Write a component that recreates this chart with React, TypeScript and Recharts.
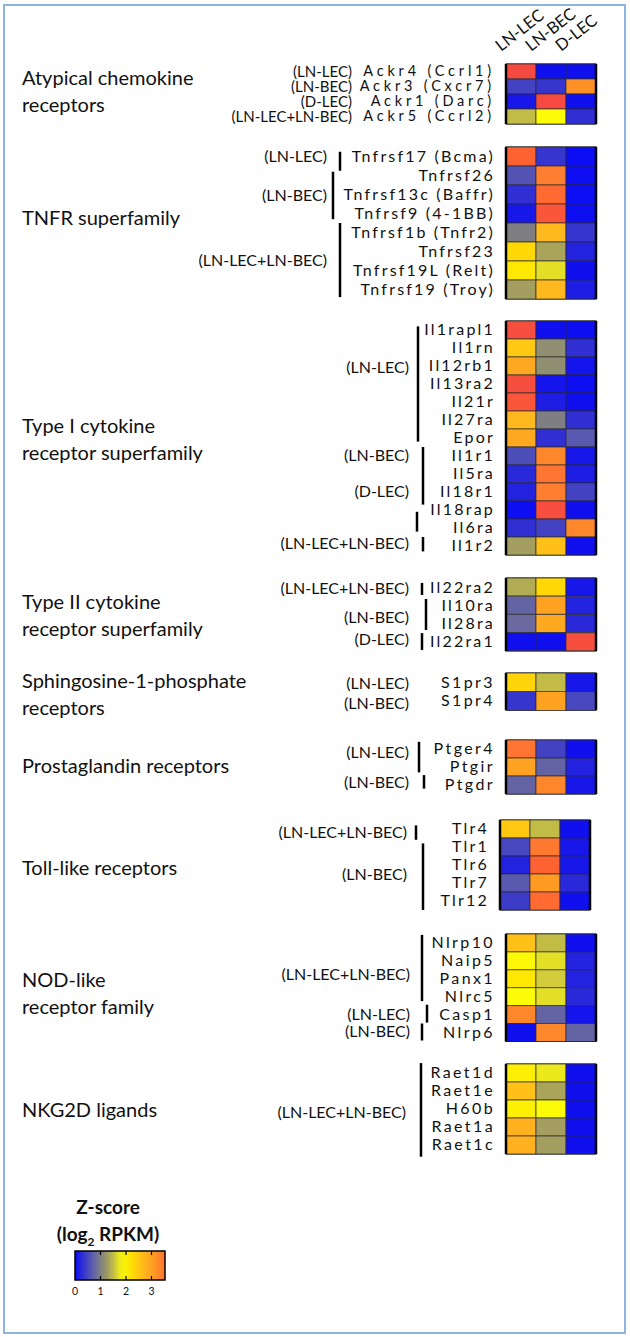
import { BarChart, Bar, XAxis, YAxis, Cell, ReferenceArea, ReferenceLine } from "recharts";

const COLUMNS = ["LN-LEC", "LN-BEC", "D-LEC"];
const KEYS = ["lec", "bec", "dlec"];

// z-scores per gene: [LN-LEC, LN-BEC, D-LEC]
const ackrGenes = ["Ackr4 (Ccrl1)", "Ackr3 (Cxcr7)", "Ackr1 (Darc)", "Ackr5 (Ccrl2)"];
const ackrZ = [[4.0, 0.05, 0.05], [0.45, 0.35, 3.2], [0.1, 4.0, 0.05], [1.5, 1.85, 0.3]];

const tnfrGenes = ["Tnfrsf17 (Bcma)", "Tnfrsf26", "Tnfrsf13c (Baffr)", "Tnfrsf9 (4-1BB)", "Tnfrsf1b (Tnfr2)", "Tnfrsf23", "Tnfrsf19L (Relt)", "Tnfrsf19 (Troy)"];
const tnfrZ = [[3.7, 0.35, 0.02], [0.6, 3.4, 0.03], [0.3, 3.6, 0.03], [0.1, 3.85, 0.03], [1.0, 2.7, 0.35], [2.3, 1.35, 0.2], [2.1, 1.7, 0.05], [1.3, 2.7, 0.15]];

const type1Genes = ["Il1rapl1", "Il1rn", "Il12rb1", "Il13ra2", "Il21r", "Il27ra", "Epor", "Il1r1", "Il5ra", "Il18r1", "Il18rap", "Il6ra", "Il1r2"];
const type1Z = [[3.95, 0.05, 0.03], [2.5, 1.15, 0.3], [2.9, 1.15, 0.08], [3.95, 0.08, 0.03], [3.85, 0.15, 0.05], [2.7, 1.0, 0.3], [2.9, 0.3, 0.65], [0.55, 3.3, 0.1], [0.25, 3.5, 0.15], [0.2, 3.4, 0.45], [0.03, 3.95, 0.05], [0.3, 0.45, 3.3], [1.3, 2.6, 0.05]];

const type2Genes = ["Il22ra2", "Il10ra", "Il28ra", "Il22ra1"];
const type2Z = [[1.4, 2.3, 0.1], [0.75, 3.0, 0.2], [0.8, 2.9, 0.25], [0.05, 0.05, 3.95]];

const s1prGenes = ["S1pr3", "S1pr4"];
const s1prZ = [[2.35, 1.5, 0.1], [0.35, 3.0, 0.5]];

const prostGenes = ["Ptger4", "Ptgir", "Ptgdr"];
const prostZ = [[3.5, 0.45, 0.05], [3.0, 0.75, 0.2], [0.75, 3.3, 0.1]];

const tollGenes = ["Tlr4", "Tlr1", "Tlr6", "Tlr7", "Tlr12"];
const tollZ = [[2.5, 1.5, 0.05], [0.5, 3.45, 0.1], [0.2, 3.7, 0.1], [0.65, 3.1, 0.25], [0.4, 3.6, 0.05]];

const nodGenes = ["Nlrp10", "Naip5", "Panx1", "Nlrc5", "Casp1", "Nlrp6"];
const nodZ = [[2.6, 1.5, 0.05], [1.9, 1.7, 0.2], [2.1, 1.6, 0.2], [1.85, 1.7, 0.25], [3.3, 0.75, 0.08], [0.05, 3.3, 0.75]];

const nkgGenes = ["Raet1d", "Raet1e", "H60b", "Raet1a", "Raet1c"];
const nkgZ = [[2.0, 1.75, 0.05], [2.6, 1.35, 0.05], [2.0, 1.85, 0.05], [2.8, 1.3, 0.05], [2.8, 1.3, 0.05]];

const LEGEND_TICKS = [0, 1, 2, 3];
const LEGEND_MAX = 3.53;

const FONT = "Lato, 'Open Sans', sans-serif";

// colour scale: blue -> grey -> yellow -> orange -> red
const STOPS: [number, string][] = [
  [0, "#0a0af5"], [0.4, "#3c3cc8"], [0.8, "#6a6aa0"], [1.05, "#84847c"], [1.35, "#aaa45a"],
  [1.6, "#d2cc3a"], [1.85, "#fcfc08"], [2.2, "#ffe000"], [2.7, "#ffb81e"], [3.1, "#ff9a22"],
  [3.4, "#ff7e30"], [3.7, "#ff6232"], [4.0, "#f44a42"],
];
const hex = (h: string) => [1, 3, 5].map((i) => parseInt(h.slice(i, i + 2), 16));
function zColor(z: number) {
  if (z <= STOPS[0][0]) return STOPS[0][1];
  for (let i = 1; i < STOPS.length; i++) {
    if (z <= STOPS[i][0]) {
      const [z0, c0] = STOPS[i - 1];
      const [z1, c1] = STOPS[i];
      const t = (z - z0) / (z1 - z0);
      const a = hex(c0), b = hex(c1);
      return `rgb(${a.map((v, k) => Math.round(v + (b[k] - v) * t)).join(",")})`;
    }
  }
  return STOPS[STOPS.length - 1][1];
}

type Note = { text: string; row: number };
type Bracket = { x: number; r0: number; r1: number };
type Block = {
  genes: string[]; z: number[][]; top: number; rowH: number; left: number;
  noteX: number; notes: Note[]; brackets: Bracket[]; header?: boolean;
  fontSize: number; spacing: number;
};

const blocks: Block[] = [
  { genes: ackrGenes, z: ackrZ, top: 64, rowH: 15, left: 506, noteX: 352, header: true, fontSize: 14.5, spacing: 3.8,
    notes: [{ text: "(LN-LEC)", row: 0.5 }, { text: "(LN-BEC)", row: 1.5 }, { text: "(D-LEC)", row: 2.5 }, { text: "(LN-LEC+LN-BEC)", row: 3.5 }],
    brackets: [] },
  { genes: tnfrGenes, z: tnfrZ, top: 147, rowH: 19, left: 506, noteX: 327, fontSize: 16, spacing: 2.2,
    notes: [{ text: "(LN-LEC)", row: 0.5 }, { text: "(LN-BEC)", row: 2.6 }, { text: "(LN-LEC+LN-BEC)", row: 6 }],
    brackets: [{ x: 340, r0: 0.25, r1: 1.25 }, { x: 333, r0: 1.3, r1: 3.8 }, { x: 340, r0: 4.0, r1: 7.9 }] },
  { genes: type1Genes, z: type1Z, top: 321, rowH: 18, left: 506, noteX: 409, fontSize: 16, spacing: 2.2,
    notes: [{ text: "(LN-LEC)", row: 2.6 }, { text: "(LN-BEC)", row: 7.5 }, { text: "(D-LEC)", row: 9.5 }, { text: "(LN-LEC+LN-BEC)", row: 12.4 }],
    brackets: [{ x: 418, r0: 0.3, r1: 6.7 }, { x: 423, r0: 7.0, r1: 10.2 }, { x: 417, r0: 10.6, r1: 11.7 }, { x: 423, r0: 12.0, r1: 12.8 }] },
  { genes: type2Genes, z: type2Z, top: 578, rowH: 18.25, left: 506, noteX: 409, fontSize: 16, spacing: 2.2,
    notes: [{ text: "(LN-LEC+LN-BEC)", row: 0.6 }, { text: "(LN-BEC)", row: 2.2 }, { text: "(D-LEC)", row: 3.4 }],
    brackets: [{ x: 422, r0: 0.27, r1: 0.93 }, { x: 426, r0: 1.15, r1: 2.85 }, { x: 422, r0: 3.02, r1: 3.95 }] },
  { genes: s1prGenes, z: s1prZ, top: 673, rowH: 18.5, left: 506, noteX: 409, fontSize: 16, spacing: 2.4,
    notes: [{ text: "(LN-LEC)", row: 0.6 }, { text: "(LN-BEC)", row: 1.7 }],
    brackets: [] },
  { genes: prostGenes, z: prostZ, top: 740, rowH: 18, left: 506, noteX: 409, fontSize: 16, spacing: 2.4,
    notes: [{ text: "(LN-LEC)", row: 0.7 }, { text: "(LN-BEC)", row: 2.4 }],
    brackets: [{ x: 419, r0: 0.1, r1: 1.8 }, { x: 424, r0: 1.95, r1: 2.7 }] },
  { genes: tollGenes, z: tollZ, top: 820, rowH: 18, left: 500, noteX: 407, fontSize: 16, spacing: 2.2,
    notes: [{ text: "(LN-LEC+LN-BEC)", row: 0.7 }, { text: "(LN-BEC)", row: 3.05 }],
    brackets: [{ x: 416, r0: 0.3, r1: 1.1 }, { x: 423, r0: 1.3, r1: 5.0 }] },
  { genes: nodGenes, z: nodZ, top: 934, rowH: 17.9, left: 506, noteX: 410, fontSize: 16, spacing: 2.4,
    notes: [{ text: "(LN-LEC+LN-BEC)", row: 2.3 }, { text: "(LN-LEC)", row: 4.5 }, { text: "(LN-BEC)", row: 5.5 }],
    brackets: [{ x: 422, r0: 0.05, r1: 3.75 }, { x: 427, r0: 3.95, r1: 4.95 }, { x: 422, r0: 5.0, r1: 5.95 }] },
  { genes: nkgGenes, z: nkgZ, top: 1064, rowH: 18, left: 506, noteX: 406, fontSize: 16, spacing: 2.4,
    notes: [{ text: "(LN-LEC+LN-BEC)", row: 2.7 }],
    brackets: [{ x: 421, r0: -0.05, r1: 5.15 }] },
];

const titles: { lines: string[]; y: number }[] = [
  { lines: ["Atypical chemokine", "receptors"], y: 85 },
  { lines: ["TNFR superfamily"], y: 225 },
  { lines: ["Type I cytokine", "receptor superfamily"], y: 433 },
  { lines: ["Type II cytokine", "receptor superfamily"], y: 609 },
  { lines: ["Sphingosine-1-phosphate", "receptors"], y: 688 },
  { lines: ["Prostaglandin receptors"], y: 773 },
  { lines: ["Toll-like receptors"], y: 875 },
  { lines: ["NOD-like", "receptor family"], y: 987 },
  { lines: ["NKG2D ligands"], y: 1117 },
];

const HEADER_H = 64;
const PAD = 8;
const CELL_W = 30;

function GeneTick(props: any) {
  const { x, y, payload, fs, ls } = props;
  return (
    <text x={x} y={y} dy={fs * 0.34} textAnchor="end" fontFamily={FONT} fontSize={fs} letterSpacing={ls} fill="#111">
      {payload.value}
    </text>
  );
}

function HeaderTick(props: any) {
  const { x, y, payload } = props;
  const tx = x - 20;
  const ty = y - 12;
  return (
    <text x={tx} y={ty} transform={`rotate(-38 ${tx} ${ty})`} fontFamily={FONT} fontSize={16.5} fill="#111">
      {COLUMNS[Math.floor(payload.value)]}
    </text>
  );
}

function HeatBlock({ b }: { b: Block }) {
  const data = b.genes.map((g, i) => ({ gene: g, lec: b.z[i][0], bec: b.z[i][1], dlec: b.z[i][2], c0: 1, c1: 1, c2: 1 }));
  const headH = b.header ? HEADER_H : PAD;
  const h = b.genes.length * b.rowH;
  const right = 630 - b.left - CELL_W * 3;
  return (
    <div style={{ position: "absolute", left: 0, top: b.top - headH }}>
      <BarChart layout="vertical" width={630} height={h + headH + PAD} data={data} barCategoryGap={0} barGap={0}
        margin={{ top: b.header ? 0 : PAD, right, bottom: PAD, left: 0 }} style={{ overflow: "visible" }}>
        <XAxis type="number" domain={[0, 3]} orientation="top" hide={!b.header} height={b.header ? headH : 0}
          ticks={[0.5, 1.5, 2.5]} axisLine={false} tickLine={false} tickSize={0} tickMargin={0} tick={<HeaderTick />} />
        <YAxis type="category" dataKey="gene" width={b.left} axisLine={false} tickLine={false}
          tickSize={0} tickMargin={11} interval={0} tick={<GeneTick fs={b.fontSize} ls={b.spacing} />} />
        {["c0", "c1", "c2"].map((k, ci) => (
          <Bar key={k} dataKey={k} stackId="s" isAnimationActive={false}>
            {data.map((d: any, i) => (
              <Cell key={i} fill={zColor(d[KEYS[ci]])} stroke="#2a2a2a" strokeWidth={0.7} />
            ))}
          </Bar>
        ))}
        <ReferenceArea x1={0} x2={3} fill="none" stroke="#000" strokeWidth={1.2} ifOverflow="visible" />
        <ReferenceLine x={0} stroke="#000" strokeWidth={2.5} ifOverflow="visible" />
        <ReferenceLine x={3} stroke="#000" strokeWidth={2.5} ifOverflow="visible" />
      </BarChart>
    </div>
  );
}

const LEG_H = 29;

function LegendTick(props: any) {
  const { x, y, payload } = props;
  return (
    <g>
      {payload.value > 0 && (
        <>
          <line x1={x} x2={x} y1={y - 4} y2={y} stroke="#000" strokeWidth={1.2} />
          <line x1={x} x2={x} y1={y - LEG_H} y2={y - LEG_H + 4} stroke="#000" strokeWidth={1.2} />
        </>
      )}
      <text x={x} y={y + 15} textAnchor="middle" fontFamily={FONT} fontSize={10.5} fill="#111" stroke="none">
        {payload.value}
      </text>
    </g>
  );
}

function ColorLegend() {
  const stops = Array.from({ length: 15 }, (_, i) => (i / 14) * LEGEND_MAX);
  const data = [{ name: "z", w: LEGEND_MAX }];
  return (
    <div style={{ position: "absolute", left: 0, top: 1240 }}>
      <svg width={0} height={0} style={{ position: "absolute" }}>
        <defs>
          <linearGradient id="zgrad" x1="0" x2="1" y1="0" y2="0">
            {stops.map((s) => (
              <stop key={s} offset={s / LEGEND_MAX} stopColor={zColor(s)} />
            ))}
          </linearGradient>
        </defs>
      </svg>
      <BarChart layout="vertical" width={200} height={70} data={data} barCategoryGap={0}
        margin={{ top: 11, right: 35, bottom: 10, left: 75 }} style={{ overflow: "visible" }}>
        <XAxis type="number" domain={[0, LEGEND_MAX]} ticks={LEGEND_TICKS} height={20}
          axisLine={false} tickLine={false} tickSize={0} tickMargin={0} tick={<LegendTick />} />
        <YAxis type="category" dataKey="name" hide />
        <Bar dataKey="w" fill="url(#zgrad)" stroke="#000" strokeWidth={1.5} isAnimationActive={false} />
      </BarChart>
    </div>
  );
}

export default function App() {
  return (
    <div style={{ position: "absolute", left: 0, top: 0, width: 630, height: 1337, background: "#fff", overflow: "hidden" }}>
      <div style={{ position: "absolute", left: 3, top: 4, width: 623, height: 1330, border: "2px solid #8db4e2", boxSizing: "border-box" }} />
      {blocks.map((b, i) => (
        <HeatBlock key={i} b={b} />
      ))}
      <ColorLegend />
      <svg width={630} height={1337} style={{ position: "absolute", left: 0, top: 0, pointerEvents: "none" }}>
        {titles.map((t, i) => (
          <text key={i} x={22} y={t.y} fontFamily={FONT} fontSize={20} fill="#111">
            {t.lines.map((l, j) => (
              <tspan key={j} x={22} dy={j === 0 ? 0 : 27}>{l}</tspan>
            ))}
          </text>
        ))}
        {blocks.map((b, i) => (
          <g key={i}>
            {b.notes.map((n, j) => (
              <text key={j} x={b.noteX} y={b.top + n.row * b.rowH + 5} textAnchor="end" fontFamily={FONT}
                fontSize={b.rowH < 16 ? 15 : 16} fill="#111">
                {n.text}
              </text>
            ))}
            {b.brackets.map((br, j) => (
              <line key={j} x1={br.x} x2={br.x} y1={b.top + br.r0 * b.rowH} y2={b.top + br.r1 * b.rowH} stroke="#000" strokeWidth={2.5} />
            ))}
          </g>
        ))}
        <text x={108} y={1214} textAnchor="middle" fontFamily={FONT} fontSize={19} fontWeight="bold" fill="#111">Z-score</text>
        <text x={108} y={1241} textAnchor="middle" fontFamily={FONT} fontSize={19} fontWeight="bold" fill="#111">
          (log<tspan fontSize={12} dy={5}>2</tspan><tspan dy={-5}> RPKM)</tspan>
        </text>
      </svg>
    </div>
  );
}
